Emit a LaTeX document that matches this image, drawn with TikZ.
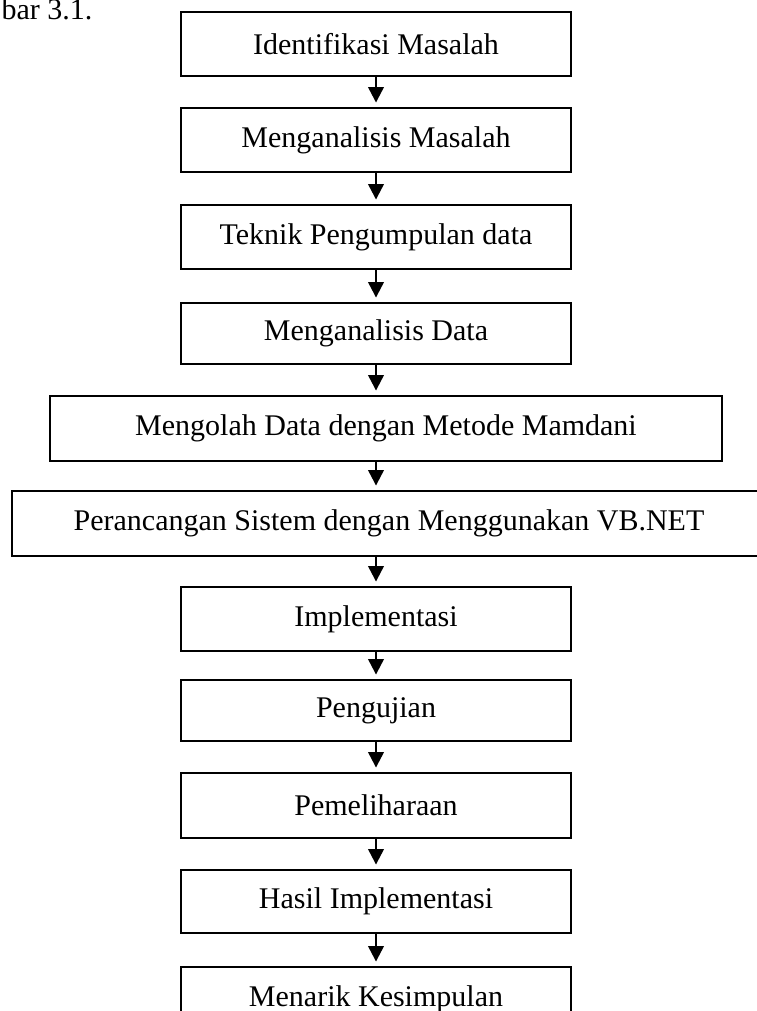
\documentclass[tikz,border=0pt]{standalone}
\usepackage{fontspec}
\setmainfont{Liberation Serif}
\usetikzlibrary{arrows.meta}

\tikzset{
    stepbox/.style={draw, line width=0.75pt, inner sep=0pt, align=center,
        font=\fontsize{12}{14}\selectfont},
    flowarrow/.style={line width=0.9pt, -{Triangle[length=6.2pt, width=6.2pt]}, shorten >=1.8pt}
}

\begin{document}
\begin{tikzpicture}[x=0.4pt, y=-0.4pt]
    % --- Configuration ---
    \def\picW{757}   % page width (px)
    \def\picH{1011}  % page height (px)

    % --- Page frame ---
    \useasboundingbox (0, 0) rectangle (\picW, \picH);
    \clip (0, 0) rectangle (\picW, \picH);

    % --- Caption fragment ---
    \node[anchor=base west, inner sep=0pt, font=\fontsize{12}{14}\selectfont] (cap) at (1, 20) {bar 3.1.};

    % --- Steps (centre x, centre y, width, height, text) ---
    \foreach \px/\py/\w/\h/\txt [count=\i] in {
        376/44/156pt/25.4pt/Identifikasi Masalah,
        376/140/156pt/25.6pt/Menganalisis Masalah,
        376/237/156pt/25.6pt/Teknik Pengumpulan data,
        376/333.5/156pt/24.4pt/Menganalisis Data,
        386/428.5/268.8pt/26pt/Mengolah Data dengan Metode Mamdani,
        389/523.5/301.6pt/26pt/Perancangan Sistem dengan Menggunakan VB.NET,
        376/619/156pt/25.6pt/Implementasi,
        376/710.5/156pt/24.4pt/Pengujian,
        376/805.5/156pt/26pt/Pemeliharaan,
        376/901.5/156pt/25.2pt/Hasil Implementasi,
        376/999/156pt/25.6pt/Menarik Kesimpulan} {
        \node[stepbox, minimum width=\w, minimum height=\h] (s\i) at (\px, \py) {\txt};
    }

    % --- Arrows (all on the axis of the first box) ---
    \foreach \i [count=\j from 2] in {1,...,10} {
        \draw[flowarrow] (s\i.south -| s1.south) -- (s\j.north -| s1.south);
    }
\end{tikzpicture}
\end{document}
